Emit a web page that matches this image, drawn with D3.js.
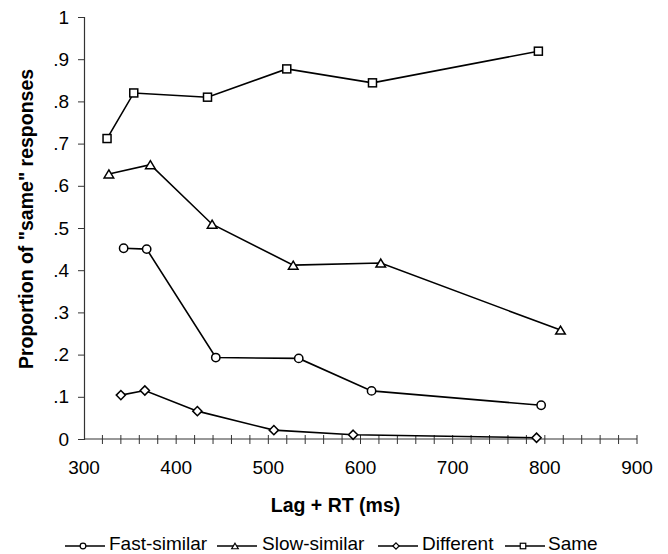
<!DOCTYPE html>
<html>
<head>
<meta charset="utf-8">
<script src="https://cdn.jsdelivr.net/npm/d3@7"></script>
<style>
  body { margin: 0; background: #fff; }
  svg { display: block; }
  text { font-family: "Liberation Sans", Arial, Helvetica, sans-serif; fill: #000; }
</style>
</head>
<body>
<svg id="chart" width="668" height="554"></svg>
<script>
// ---- Data ----
const seriesNames = ["Fast-similar", "Slow-similar", "Different", "Same"];
const seriesSymbols = ["circle", "triangle", "diamond", "square"];

const fastSimilarX = [343, 368, 443, 533, 612, 796];
const fastSimilarY = [0.452, 0.450, 0.193, 0.191, 0.114, 0.080];

const slowSimilarX = [327, 372, 439, 527, 622, 817];
const slowSimilarY = [0.628, 0.650, 0.509, 0.412, 0.417, 0.258];

const differentX = [340, 366, 423, 506, 592, 791];
const differentY = [0.104, 0.115, 0.066, 0.021, 0.010, 0.003];

const sameX = [325, 354, 434, 520, 613, 793];
const sameY = [0.712, 0.820, 0.810, 0.877, 0.844, 0.919];

const xTicks = [300, 400, 500, 600, 700, 800, 900];
const yTicks = [0, 0.1, 0.2, 0.3, 0.4, 0.5, 0.6, 0.7, 0.8, 0.9, 1];
const yTickLabels = ["0", ".1", ".2", ".3", ".4", ".5", ".6", ".7", ".8", ".9", "1"];
const xTitle = "Lag + RT (ms)";
const yTitle = "Proportion of \"same\" responses";

const seriesX = [fastSimilarX, slowSimilarX, differentX, sameX];
const seriesY = [fastSimilarY, slowSimilarY, differentY, sameY];

// ---- Chart ----
const svg = d3.select("#chart");
const x = d3.scaleLinear().domain([300, 900]).range([84, 637]);
const y = d3.scaleLinear().domain([0, 1]).range([439, 17]);

const axisColor = "#333";

// Y axis
const yAxis = svg.append("g").attr("transform", `translate(${x(300)},0)`)
  .call(d3.axisLeft(y).tickValues(yTicks).tickSize(6).tickPadding(9)
    .tickFormat((d, i) => yTickLabels[i]));
yAxis.select(".domain").attr("stroke", axisColor).attr("stroke-width", 1.2);
yAxis.selectAll(".tick line").attr("stroke", axisColor).attr("stroke-width", 1);
yAxis.selectAll(".tick text").style("font-size", "19px").attr("fill", "#000")
  .style("font-family", "'Liberation Sans', Arial, sans-serif");

// X axis (minor ticks every 20 crossing the axis)
const minorTicks = d3.range(300, 901, 20);
const xAxisG = svg.append("g");
xAxisG.append("line")
  .attr("x1", x(300)).attr("x2", x(900)).attr("y1", y(0)).attr("y2", y(0))
  .attr("stroke", axisColor).attr("stroke-width", 1.2);
xAxisG.selectAll("line.mt").data(minorTicks.slice(1)).join("line")
  .attr("class", "mt")
  .attr("x1", d => x(d)).attr("x2", d => x(d))
  .attr("y1", y(0) - 4).attr("y2", y(0) + 5)
  .attr("stroke", axisColor).attr("stroke-width", 1);
xAxisG.selectAll("text").data(xTicks).join("text")
  .attr("x", d => x(d)).attr("y", y(0) + 35)
  .attr("text-anchor", "middle").style("font-size", "19px")
  .text(d => d);

// Titles
svg.append("text")
  .attr("x", (x(300) + x(900)) / 2 - 25).attr("y", 512)
  .attr("text-anchor", "middle").style("font-size", "19.5px").style("font-weight", "bold")
  .text(xTitle);
svg.append("text")
  .attr("transform", "translate(33,219) rotate(-90)")
  .attr("text-anchor", "middle").style("font-size", "19.5px").style("font-weight", "bold")
  .text(yTitle);

// Symbol drawing helper
function drawSymbol(g, type, cx, cy, s) {
  if (type === "circle") {
    g.append("circle").attr("cx", cx).attr("cy", cy).attr("r", s * 0.52);
  } else if (type === "square") {
    g.append("rect").attr("x", cx - s / 2).attr("y", cy - s / 2).attr("width", s).attr("height", s);
  } else if (type === "triangle") {
    const w = s * 1.2, h = s * 1.0;
    g.append("path").attr("d", `M${cx},${cy - h / 2}L${cx + w / 2},${cy + h / 2}L${cx - w / 2},${cy + h / 2}Z`);
  } else if (type === "diamond") {
    const w = s * 1.15;
    g.append("path").attr("d", `M${cx},${cy - w / 2}L${cx + w / 2},${cy}L${cx},${cy + w / 2}L${cx - w / 2},${cy}Z`);
  }
}

const line = d3.line().x(d => x(d[0])).y(d => y(d[1]));

seriesNames.forEach((name, i) => {
  const pts = seriesX[i].map((v, j) => [v, seriesY[i][j]]);
  svg.append("path").datum(pts).attr("d", line)
    .attr("fill", "none").attr("stroke", "#000").attr("stroke-width", 1.6);
  const mg = svg.append("g").attr("fill", "#fff").attr("stroke", "#000").attr("stroke-width", 1.5);
  pts.forEach(p => drawSymbol(mg, seriesSymbols[i], x(p[0]), y(p[1]), 8));
});

// Legend
const legendItems = [
  { lx: 65, tx: 109 },
  { lx: 217, tx: 262 },
  { lx: 378, tx: 422 },
  { lx: 505, tx: 548 }
];
const legY = 546;
seriesNames.forEach((name, i) => {
  const it = legendItems[i];
  svg.append("line").attr("x1", it.lx).attr("x2", it.lx + 40)
    .attr("y1", legY).attr("y2", legY).attr("stroke", "#000").attr("stroke-width", 1.4);
  const mg = svg.append("g").attr("fill", "#fff").attr("stroke", "#000").attr("stroke-width", 1.2);
  drawSymbol(mg, seriesSymbols[i], it.lx + 18, legY, 5.5);
  svg.append("text").attr("x", it.tx).attr("y", 550).style("font-size", "19px").text(name);
});
</script>
</body>
</html>
